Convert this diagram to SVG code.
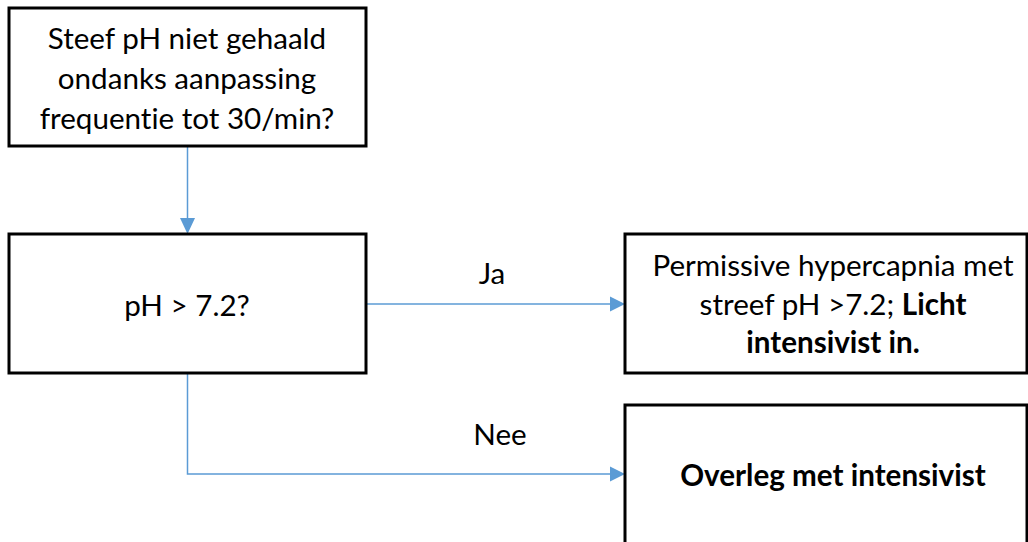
<svg xmlns="http://www.w3.org/2000/svg" width="1028" height="542" viewBox="0 0 1028 542">
<style>
.box{fill:#fff;stroke:#000;stroke-width:3}
.t{font-family:Lato,"Liberation Sans",sans-serif;font-size:29.6px;fill:#000;text-anchor:middle;font-variant-ligatures:none}
.b{font-weight:bold}
.c{fill:none;stroke:#5B9BD5;stroke-width:1.5}
.ah{fill:#5B9BD5}
</style>
<rect width="1028" height="542" fill="#fff"/>
<g id="connectors">
<line class="c" x1="187.5" y1="146" x2="187.5" y2="218"/>
<path class="ah" d="M180,218 L195,218 L187.5,234 Z"/>
<line class="c" x1="366" y1="304" x2="610" y2="304"/>
<path class="ah" d="M610,296.5 L625,304 L610,311.5 Z"/>
<polyline class="c" points="187.5,373 187.5,474 610,474"/>
<path class="ah" d="M610,466.5 L625,474 L610,481.5 Z"/>
<text class="t" x="492" y="284">Ja</text>
<text class="t" x="500" y="445">Nee</text>
</g>
<g id="n1">
<rect class="box" x="9" y="8" width="357" height="138"/>
<text class="t" x="187" y="49">Steef pH niet gehaald</text>
<text class="t" x="187" y="89">ondanks aanpassing</text>
<text class="t" x="187" y="129">frequentie tot 30/min?</text>
</g>
<g id="n2">
<rect class="box" x="9" y="234" width="357" height="139"/>
<text class="t" x="187" y="316">pH &gt; 7.2?</text>
</g>
<g id="n3">
<rect class="box" x="625" y="234" width="402" height="139"/>
<text class="t" x="833" y="276">Permissive hypercapnia met</text>
<text class="t" x="833" y="315">streef pH &gt;7.2; <tspan class="b">Licht</tspan></text>
<text class="t b" x="833" y="353">intensivist in.</text>
</g>
<g id="n4">
<rect class="box" x="625" y="405" width="402" height="150"/>
<text class="t b" x="833" y="486">Overleg met intensivist</text>
</g>
</svg>
